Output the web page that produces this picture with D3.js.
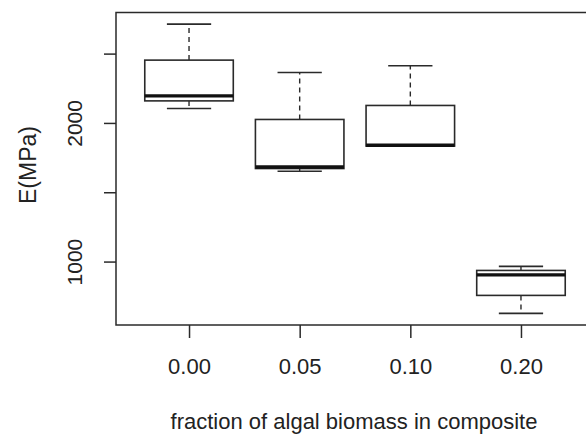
<!DOCTYPE html>
<html>
<head>
<meta charset="utf-8">
<script src="https://cdn.jsdelivr.net/npm/d3@7"></script>
<style>
  html, body { margin: 0; padding: 0; background: #fff; }
  svg { display: block; }
  text { font-family: "Liberation Sans", Arial, Helvetica, sans-serif; fill: #222; }
</style>
</head>
<body>
<svg id="chart" width="586" height="434"></svg>
<script>
// ---- data ----
const categories   = ["0.00", "0.05", "0.10", "0.20"];
const upperWhisker = [2713, 2364, 2412, 965];
const q3           = [2453, 2025, 2126, 936];
const median       = [2195, 1682, 1839, 904];
const q1           = [2159, 1671, 1833, 756];
const lowerWhisker = [2104, 1651, 1833, 626];
const yTickValues  = [1000, 1500, 2000, 2500];
const yTickLabels  = [1000, 2000];
const xTitle = "fraction of algal biomass in composite";
const yTitle = "E(MPa)";

// ---- layout ----
const svg = d3.select("#chart");
const pL = 116, pR = 594, pT = 12.5, pB = 325;
const ink = "#2a2a2a";

const x = d3.scalePoint().domain(categories).range([pL, pR]).padding(0.66);
const y = d3.scaleLinear().domain([542.5, 2796.5]).range([pB, pT]);
const boxW = x.step() * 0.8;
const capW = boxW * 0.5;

const rows = categories.map((c, i) => ({
  c, lo: lowerWhisker[i], q1: q1[i], med: median[i], q3: q3[i], hi: upperWhisker[i]
}));

const g = svg.append("g");

// whiskers (dashed)
g.selectAll("line.wu").data(rows).join("line")
  .attr("x1", d => x(d.c)).attr("x2", d => x(d.c))
  .attr("y1", d => y(d.q3)).attr("y2", d => y(d.hi))
  .attr("stroke", ink).attr("stroke-width", 1.4).attr("stroke-dasharray", "5,4");
g.selectAll("line.wl").data(rows.filter(d => d.lo < d.q1)).join("line")
  .attr("x1", d => x(d.c)).attr("x2", d => x(d.c))
  .attr("y1", d => y(d.q1)).attr("y2", d => y(d.lo))
  .attr("stroke", ink).attr("stroke-width", 1.4).attr("stroke-dasharray", "5,4");

// caps
g.selectAll("line.cu").data(rows).join("line")
  .attr("x1", d => x(d.c) - capW / 2).attr("x2", d => x(d.c) + capW / 2)
  .attr("y1", d => y(d.hi)).attr("y2", d => y(d.hi))
  .attr("stroke", ink).attr("stroke-width", 1.6);
g.selectAll("line.cl").data(rows.filter(d => d.lo < d.q1)).join("line")
  .attr("x1", d => x(d.c) - capW / 2).attr("x2", d => x(d.c) + capW / 2)
  .attr("y1", d => y(d.lo)).attr("y2", d => y(d.lo))
  .attr("stroke", ink).attr("stroke-width", 1.6);

// boxes
g.selectAll("rect.box").data(rows).join("rect")
  .attr("x", d => x(d.c) - boxW / 2).attr("width", boxW)
  .attr("y", d => y(d.q3)).attr("height", d => y(d.q1) - y(d.q3))
  .attr("fill", "#fff").attr("stroke", ink).attr("stroke-width", 1.6);

// medians
g.selectAll("line.med").data(rows).join("line")
  .attr("x1", d => x(d.c) - boxW / 2).attr("x2", d => x(d.c) + boxW / 2)
  .attr("y1", d => y(d.med)).attr("y2", d => y(d.med))
  .attr("stroke", "#111").attr("stroke-width", 3.4);

// frame
svg.append("rect")
  .attr("x", pL).attr("y", pT).attr("width", pR - pL).attr("height", pB - pT)
  .attr("fill", "none").attr("stroke", ink).attr("stroke-width", 1.5);

// y axis
const yAxis = svg.append("g").attr("transform", `translate(${pL},0)`)
  .call(d3.axisLeft(y).tickValues(yTickValues).tickSize(12)
    .tickFormat(d => yTickLabels.includes(d) ? String(d) : ""));
yAxis.select(".domain").remove();
yAxis.selectAll(".tick line").attr("stroke", ink).attr("stroke-width", 1.5);
yAxis.selectAll(".tick text")
  .attr("transform", "rotate(-90)")
  .attr("x", 0).attr("y", -34).attr("dy", 0)
  .attr("text-anchor", "middle")
  .style("font-size", "21px").style("fill", "#222")
  .style("font-family", '"Liberation Sans", Arial, sans-serif');

// x axis
const xAxis = svg.append("g").attr("transform", `translate(0,${pB})`)
  .call(d3.axisBottom(x).tickSize(13));
xAxis.select(".domain").remove();
xAxis.selectAll(".tick line").attr("stroke", ink).attr("stroke-width", 1.5);
xAxis.selectAll(".tick text")
  .attr("y", 49).attr("dy", 0)
  .style("font-size", "22px").style("fill", "#222")
  .style("font-family", '"Liberation Sans", Arial, sans-serif');

// titles
svg.append("text")
  .attr("x", 354).attr("y", 429)
  .attr("text-anchor", "middle")
  .style("font-size", "22px")
  .text(xTitle);

svg.append("text")
  .attr("transform", "translate(36,165) rotate(-90)")
  .attr("text-anchor", "middle")
  .style("font-size", "23px")
  .text(yTitle);
</script>
</body>
</html>
